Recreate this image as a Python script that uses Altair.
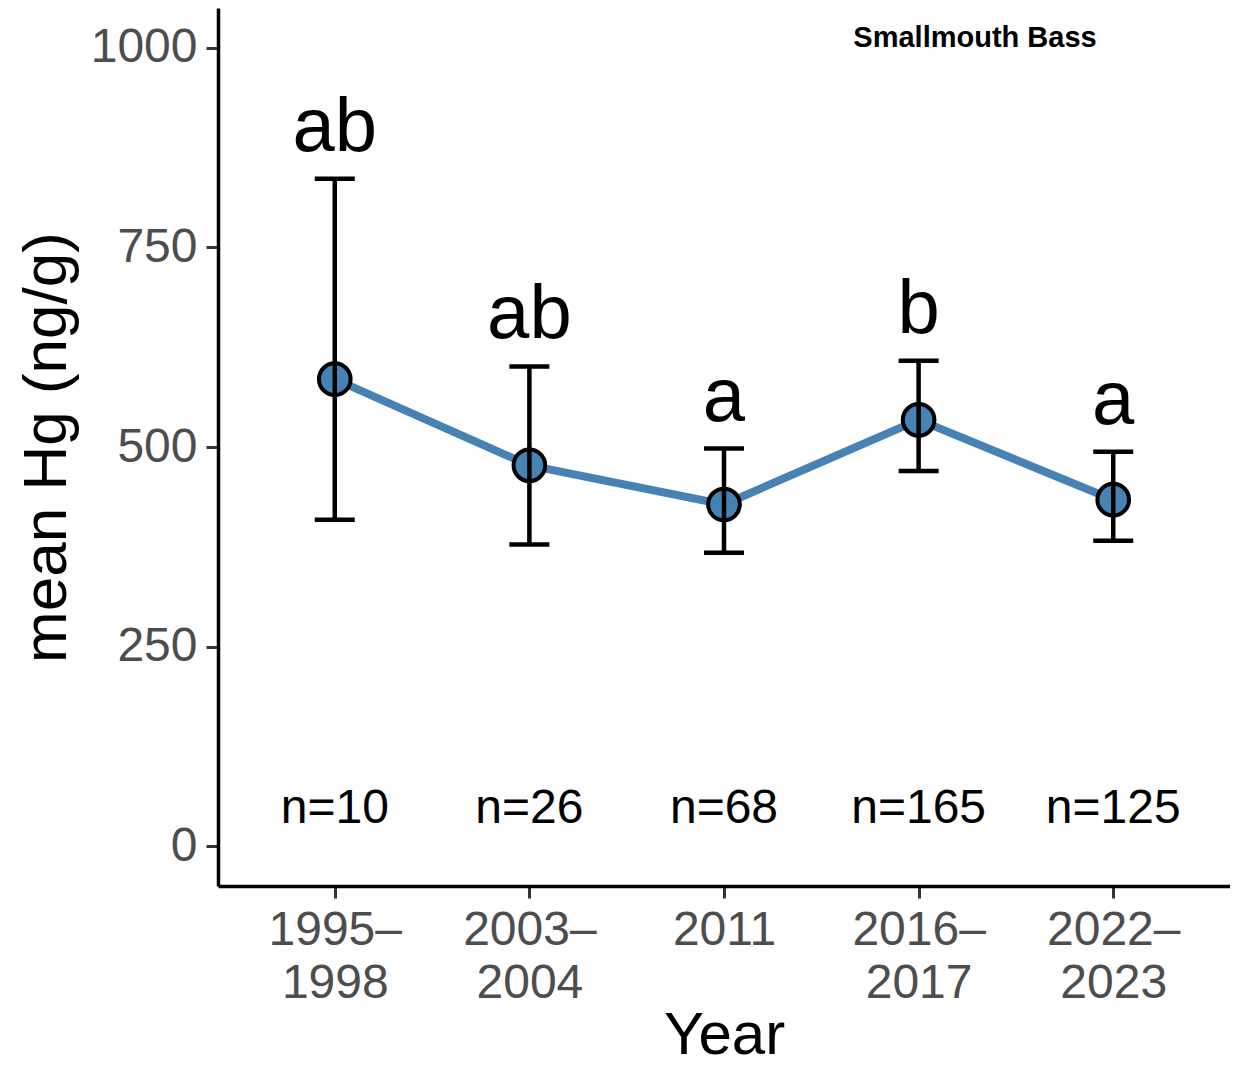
import altair as alt
import pandas as pd

periods = ["1995–\n1998", "2003–\n2004", "2011", "2016–\n2017", "2022–\n2023"]
means = [585, 477, 428, 534, 434]
lowers = [409, 378, 367.5, 470, 382.5]
uppers = [836, 601, 498, 608, 494]
letters = ["ab", "ab", "a", "b", "a"]
n_labels = ["n=10", "n=26", "n=68", "n=165", "n=125"]
y_ticks = [0, 250, 500, 750, 1000]
species = "Smallmouth Bass"

df = pd.DataFrame({
    "period": periods,
    "mean": means,
    "lower": lowers,
    "upper": uppers,
    "letter": letters,
    "n": n_labels,
})

FONT = "Liberation Sans"
BLUE = "#4682B4"

x_scale = alt.Scale(type="point", padding=0.6)
y_scale = alt.Scale(domain=[-50, 1050], nice=False, zero=False)

x_axis = alt.Axis(
    title="Year", orient="bottom", labelExpr="split(datum.label, '\\n')", labelAngle=0,
    labelFont=FONT, labelFontSize=48, labelColor="#4D4D4D", labelLineHeight=53,
    labelPadding=8, labelOverlap=False, labelBaseline="top",
    tickSize=12, tickWidth=3, tickColor="#333333",
    domainColor="black", domainWidth=3.5,
    titleFont=FONT, titleFontSize=60, titleFontWeight="normal", titleColor="black",
    titleBaseline="alphabetic", titleY=167, grid=False,
)
y_axis = alt.Axis(
    title="mean Hg (ng/g)", orient="left", values=y_ticks, format="d",
    labelFont=FONT, labelFontSize=48, labelColor="#4D4D4D", labelPadding=9,
    tickSize=12, tickWidth=3, tickColor="#333333",
    domainColor="black", domainWidth=3.5,
    titleFont=FONT, titleFontSize=62, titleFontWeight="normal", titleColor="black",
    titleBaseline="alphabetic", titleX=-153, grid=False,
)

X = alt.X("period:N", sort=periods, scale=x_scale, axis=x_axis, title="Year")


def Y(field):
    return alt.Y(field, type="quantitative", scale=y_scale, axis=y_axis, title="mean Hg (ng/g)")


base = alt.Chart(df)

line = base.mark_line(color=BLUE, strokeWidth=8).encode(x=X, y=Y("mean"))

points = base.mark_point(filled=True, fill=BLUE, stroke="black", strokeWidth=4,
                         size=1000, opacity=1, shape="circle").encode(x=X, y=Y("mean"))

rules = base.mark_rule(color="black", strokeWidth=4.5).encode(
    x=X, y=Y("lower"), y2="upper:Q",
)

caps_up = base.mark_tick(color="black", size=40, thickness=4.5, opacity=1).encode(
    x=X, y=Y("upper"),
)
caps_low = base.mark_tick(color="black", size=40, thickness=4.5, opacity=1).encode(
    x=X, y=Y("lower"),
)

letter_text = base.mark_text(font=FONT, fontSize=76, color="black",
                             baseline="alphabetic", align="center", dy=-28).encode(
    x=X, y=Y("upper"), text="letter:N",
)

n_text = base.mark_text(font=FONT, fontSize=48, color="black",
                        baseline="alphabetic", align="center", dy=17).encode(
    x=X,
    y=alt.YDatum(50, type="quantitative", scale=y_scale, axis=y_axis, title="mean Hg (ng/g)"),
    text="n:N",
)

species_text = alt.Chart(pd.DataFrame({"label": [species]})).mark_text(
    font=FONT, fontSize=29, fontWeight="bold", color="black",
    baseline="alphabetic", align="center",
).encode(
    x=alt.value(757), y=alt.value(39), text="label:N",
)

chart = alt.layer(line, points, rules, caps_up, caps_low, letter_text, n_text, species_text).properties(
    width=1012, height=878,
    background="white",
    autosize=alt.AutoSizeParams(type="none"),
    padding={"left": 210, "top": 0, "right": 0, "bottom": 180},
).configure_view(
    stroke="transparent", strokeWidth=0
)

chart.save("out.html", embed_options={"renderer": "svg", "actions": False})
